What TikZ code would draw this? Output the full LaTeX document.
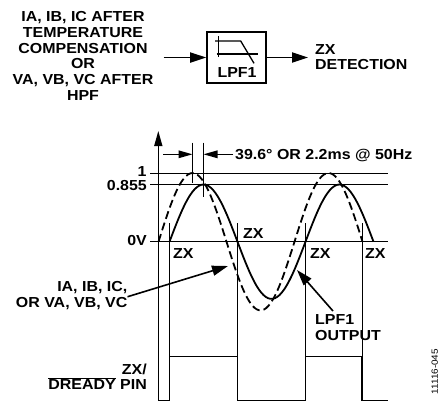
\documentclass[tikz,border=0pt]{standalone}
\usepackage{fontspec}
\setmainfont{Liberation Sans}[FakeStretch=1.1]
\usetikzlibrary{arrows.meta, math}

\tikzset{
  lbl/.style={font=\bfseries\fontsize{14.5bp}{15.7bp}\selectfont, inner sep=0pt},
  thickline/.style={line width=1.8bp},
  thinline/.style={line width=0.9bp},
  bigarrow/.style={-{Triangle[length=16bp,width=10bp]}, line width=1.8bp},
  smallarrow/.style={-{Triangle[length=14bp,width=7.5bp]}, line width=1.4bp},
}

\begin{document}
\begin{tikzpicture}[x=1bp, y=-1bp]
\tikzmath{
\T=136; \xs=169.5; \xd=158.5; \yz=241.7; \As=57.2; \Ad=68.7; \yh=356.5; \yb=400.5;
}
\fill[white] (0,0) rectangle (441,402);
\useasboundingbox (0,0) rectangle (441,402);

% block diagram
\node[lbl, align=center, anchor=north] (src) at (83,11.3)
  {IA, IB, IC AFTER\\TEMPERATURE\\COMPENSATION\\OR\\VA, VB, VC AFTER\\HPF};
\node[draw, line width=1.6bp, minimum width=59bp, minimum height=51bp, inner sep=0pt] (lpf) at (236.5,57.5) {};
\node[lbl, anchor=base] (lpfname) at (237,77.5) {LPF1};
\draw[line width=1.3bp] (218.3,36) -- (218.3,56.7);
\draw[line width=1.3bp] (216.7,54) -- (258.3,54);
\draw[line width=1.3bp] (215,41) -- (240.7,41) -- (254,63.3);
\node[lbl, align=left, anchor=north west, font=\bfseries\fontsize{14.5bp}{14.6bp}\selectfont] (zxdet) at (315,44.5) {ZX\\DETECTION};
\draw[bigarrow] ([xshift=10bp]src.east |- lpf.west) -- (lpf.west);
\draw[bigarrow] (lpf.east) -- ([xshift=-7bp]zxdet.west |- lpf.east);

% axes and levels
\coordinate (origin) at (158.3,\yb);
\coordinate (ytop) at (158.3,131);
\draw[-{Triangle[length=15bp,width=8bp]}, line width=1.4bp] (origin) -- (ytop);
\foreach \yy in {173,184.5,\yz}{
\draw[thinline] (150,\yy) -- (388,\yy);
}
\node[lbl, anchor=base east] (one) at (146.7,176.5) {1};
\node[lbl, anchor=base east] (lvl) at (147,190.5) {0.855};
\node[lbl, anchor=base east] (zero) at (147,245.5) {0V};

% input and filtered waves
\draw[thickline, dash pattern=on 8bp off 4bp] plot[domain=\xd:\xd+1.5*\T, samples=90, smooth]
  (\x, {\yz - \Ad*sin((\x-\xd)/\T*360)});
\draw[thickline] plot[domain=\xs:\xs+1.5*\T, samples=90, smooth]
  (\x, {\yz - \As*sin((\x-\xs)/\T*360)});

% phase delay
\draw[thinline] (\xd+\T/4,142.7) -- (\xd+\T/4,183);
\draw[thinline] (\xs+\T/4,142.7) -- (\xs+\T/4,197);
\draw[smallarrow] (163,154.3) -- (\xd+\T/4,154.3);
\draw[smallarrow] (233,154.3) -- (\xs+\T/4,154.3);
\node[lbl, anchor=base west] (delay) at (235,159.5) {39.6° OR 2.2ms @ 50Hz};

% zero crossings
\foreach \m in {\xs,\xs+\T/2,\xs+\T,362}{
\draw[thinline] (\m,223) -- (\m,\yh);
}
\foreach \xx/\yy [count=\i] in {173/258.3, 243/238.3, 310/258.3, 365/258.3}{
\node[lbl, anchor=base west] (zx\i) at (\xx,\yy) {ZX};
}

% curve labels
\node[lbl, align=right, anchor=north east] (inlbl) at (127.5,281.5) {IA, IB, IC,\\OR VA, VB, VC};
\coordinate (intip) at (228,266);
\draw[bigarrow, line width=1.6bp] ([yshift=-1bp]inlbl.east) -- (intip);
\node[lbl, align=left, anchor=north west, font=\bfseries\fontsize{14.5bp}{16bp}\selectfont] (outlbl) at (315,314) {LPF1\\OUTPUT};
\coordinate (outtail) at (333,311);
\coordinate (outtip) at (297,270);
\draw[bigarrow, line width=1.6bp] (outtail) -- (outtip);

% ZX/DREADY output
\draw[thickline] (origin) -- (\xs,\yb) -- (\xs,\yh) -- (\xs+\T/2,\yh) -- (\xs+\T/2,\yb)
  -- (\xs+\T,\yb) -- (\xs+\T,\yh) -- (362,\yh) -- (362,\yb) -- (388,\yb);
\node[lbl, align=right, anchor=north east] (pin) at (147,363.3)
  {ZX/\\\smash{$\overline{\mbox{DREADY}}$} PIN};

\node[font=\fontsize{9bp}{10bp}\selectfont, inner sep=0pt, rotate=90] (figid) at (434.7,371.7) {11116-045};
\end{tikzpicture}
\end{document}
